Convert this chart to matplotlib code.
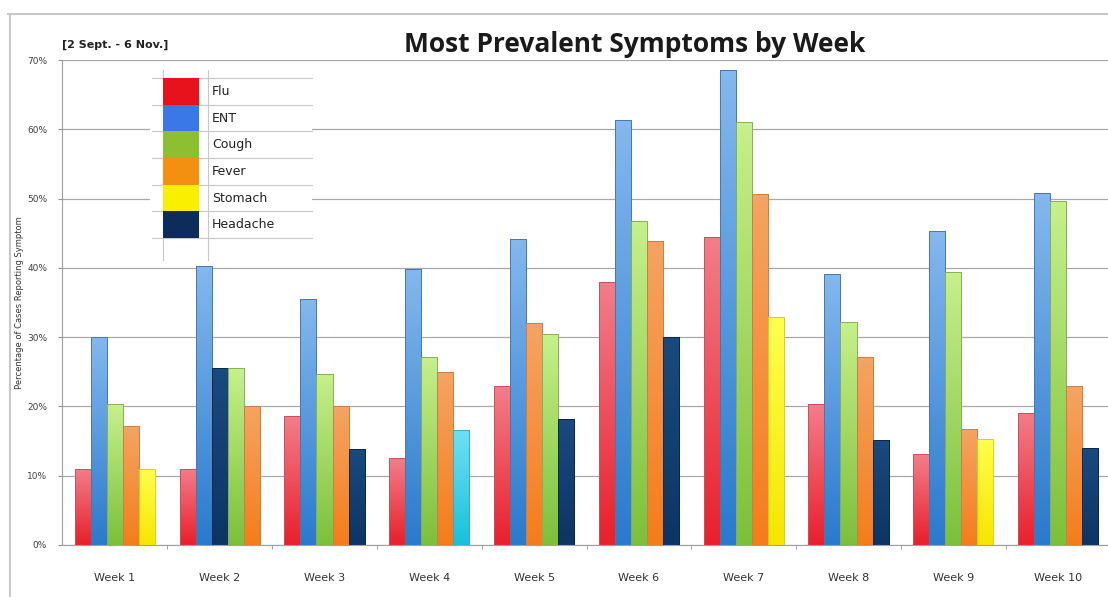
import numpy as np
import matplotlib
matplotlib.use("Agg")
import matplotlib.pyplot as plt
import matplotlib.colors as mcolors
from matplotlib.patches import Rectangle
from matplotlib.lines import Line2D

weeks = ['Week 1', 'Week 2', 'Week 3', 'Week 4', 'Week 5',
         'Week 6', 'Week 7', 'Week 8', 'Week 9', 'Week 10']

# bar order inside each week (top 5 symptoms of that week)
bar_labels = [
    ['Flu', 'ENT', 'Cough', 'Fever', 'Stomach'],
    ['Flu', 'ENT', 'Headache', 'Cough', 'Fever'],
    ['Flu', 'ENT', 'Cough', 'Fever', 'Headache'],
    ['Flu', 'ENT', 'Cough', 'Fever', 'Other'],
    ['Flu', 'ENT', 'Fever', 'Cough', 'Headache'],
    ['Flu', 'ENT', 'Cough', 'Fever', 'Headache'],
    ['Flu', 'ENT', 'Cough', 'Fever', 'Stomach'],
    ['Flu', 'ENT', 'Cough', 'Fever', 'Headache'],
    ['Flu', 'ENT', 'Cough', 'Fever', 'Stomach'],
    ['Flu', 'ENT', 'Cough', 'Fever', 'Headache'],
]
bar_values = [
    [11.0, 30.0, 20.3, 17.2, 11.0],
    [11.0, 40.2, 25.5, 25.5, 20.0],
    [18.6, 35.5, 24.7, 20.0, 13.9],
    [12.5, 39.8, 27.2, 25.0, 16.6],
    [22.9, 44.2, 32.0, 30.4, 18.2],
    [38.0, 61.3, 46.7, 43.9, 30.0],
    [44.4, 68.5, 61.0, 50.7, 32.9],
    [20.3, 39.1, 32.2, 27.2, 15.2],
    [13.1, 45.3, 39.4, 16.8, 15.3],
    [19.1, 50.8, 49.6, 22.9, 14.0],
]

legend_names = ['Flu', 'ENT', 'Cough', 'Fever', 'Stomach', 'Headache']
legend_colors = ['#e8121c', '#3a78e8', '#8cc030', '#f39010', '#f8f000', '#0c2c5c']

# (bottom colour, top colour) for the bar gradients
grad = {
    'Flu': ('#e8202c', '#f27e8a'),
    'ENT': ('#2a7acc', '#84b8ee'),
    'Cough': ('#7cc03a', '#c6f08c'),
    'Fever': ('#f57d1a', '#f4a464'),
    'Stomach': ('#f5e600', '#ffff50'),
    'Headache': ('#0c3564', '#1a4a7e'),
    'Other': ('#18c0dc', '#70e0f4'),
}
edge = {
    'Flu': '#c85060', 'ENT': '#4a78a8', 'Cough': '#88b058', 'Fever': '#c88048',
    'Stomach': '#d8d020', 'Headache': '#0a2848', 'Other': '#40a8c0',
}

W, H = 1108, 597
fig = plt.figure(figsize=(W / 100, H / 100), dpi=100)


def fx(x):
    return x / W


def fy(y):
    return 1 - y / H


ax = fig.add_axes([fx(62.5), fy(545), 1048 / W, (545 - 60) / H])

bw = 0.153
grad_y = np.linspace(0, 1, 128).reshape(-1, 1)
for g, (labels, vals) in enumerate(zip(bar_labels, bar_values)):
    for i, (lab, v) in enumerate(zip(labels, vals)):
        x = g + (i - 2) * bw
        bars = ax.bar(x, v, width=bw, color='none', edgecolor=edge[lab],
                      linewidth=0.7, zorder=3)
        rect = bars[0]
        cmap = mcolors.LinearSegmentedColormap.from_list('g', grad[lab])
        im = ax.imshow(grad_y, origin='lower', aspect='auto', cmap=cmap,
                       extent=[x - bw / 2, x + bw / 2, 0, v], zorder=2)
        im.set_clip_path(rect)

ax.set_xlim(-0.5, len(weeks) - 0.5)
ax.set_ylim(0, 70)
ax.set_yticks(np.arange(0, 71, 10))
ax.set_yticklabels(['%d%%' % t for t in range(0, 71, 10)], fontsize=6.5,
                   color='#404040')
ax.set_xticks(range(len(weeks)))
ax.set_xticklabels(weeks, fontsize=8, color='#333333')
ax.set_xticks(np.arange(0.5, len(weeks) - 0.5, 1), minor=True)
ax.tick_params(axis='x', which='major', length=0, pad=20)
ax.tick_params(axis='x', which='minor', length=3, color='#909090')
ax.tick_params(axis='y', length=3, color='#909090', pad=8)
ax.grid(axis='y', color='#a8a8a8', linewidth=0.9, zorder=0)
ax.set_axisbelow(True)
for s in ['top', 'right']:
    ax.spines[s].set_visible(False)
ax.spines['left'].set_color('#a0a0a0')
ax.spines['bottom'].set_color('#a0a0a0')
ax.set_ylabel('Percentage of Cases Reporting Symptom', fontsize=6,
              color='#333333', labelpad=8)
ax.yaxis.set_label_coords(-38 / 1048, 0.5)

# title and date range
fig.text(fx(635), fy(45), 'Most Prevalent Symptoms by Week', fontsize=19,
         fontweight='bold', ha='center', va='center', family='Open Sans',
         color='#1a1a1a')
fig.text(fx(62), fy(45), '[2 Sept. - 6 Nov.]', fontsize=8, fontweight='bold',
         ha='left', va='center', color='#222222')

# outer chart frame
fig.add_artist(Line2D([fx(8), 1], [fy(14), fy(14)], color='#c8c8c8', lw=1.5))
fig.add_artist(Line2D([fx(10), fx(10)], [fy(14), 0], color='#c8c8c8', lw=1.5))

# legend drawn as a little table
lg_left, lg_right, lg_top = 150, 312, 78
row_h = 26.7
fig.add_artist(Rectangle((fx(lg_left), fy(262)), fx(lg_right) - fx(lg_left),
                         fy(66) - fy(262), transform=fig.transFigure,
                         facecolor='white', edgecolor='none', zorder=5))
for k, (name, col) in enumerate(zip(legend_names, legend_colors)):
    y0 = lg_top + k * row_h
    fig.add_artist(Rectangle((fx(163), fy(y0 + row_h)), fx(199) - fx(163),
                             fy(y0) - fy(y0 + row_h), transform=fig.transFigure,
                             facecolor=col, edgecolor='none', zorder=7))
    fig.text(fx(212), fy(y0 + row_h / 2), name, fontsize=9, ha='left',
             va='center', color='#222222', zorder=8)
for k in range(7):
    y = lg_top + k * row_h
    fig.add_artist(Line2D([fx(152), fx(lg_right)], [fy(y), fy(y)],
                          color='#c8c8c8', lw=0.8, zorder=6))
for xv in [163, 208]:
    fig.add_artist(Line2D([fx(xv), fx(xv)], [fy(70), fy(260)],
                          color='#c8c8c8', lw=0.8, zorder=6))

fig.savefig('out.png', dpi=100)
